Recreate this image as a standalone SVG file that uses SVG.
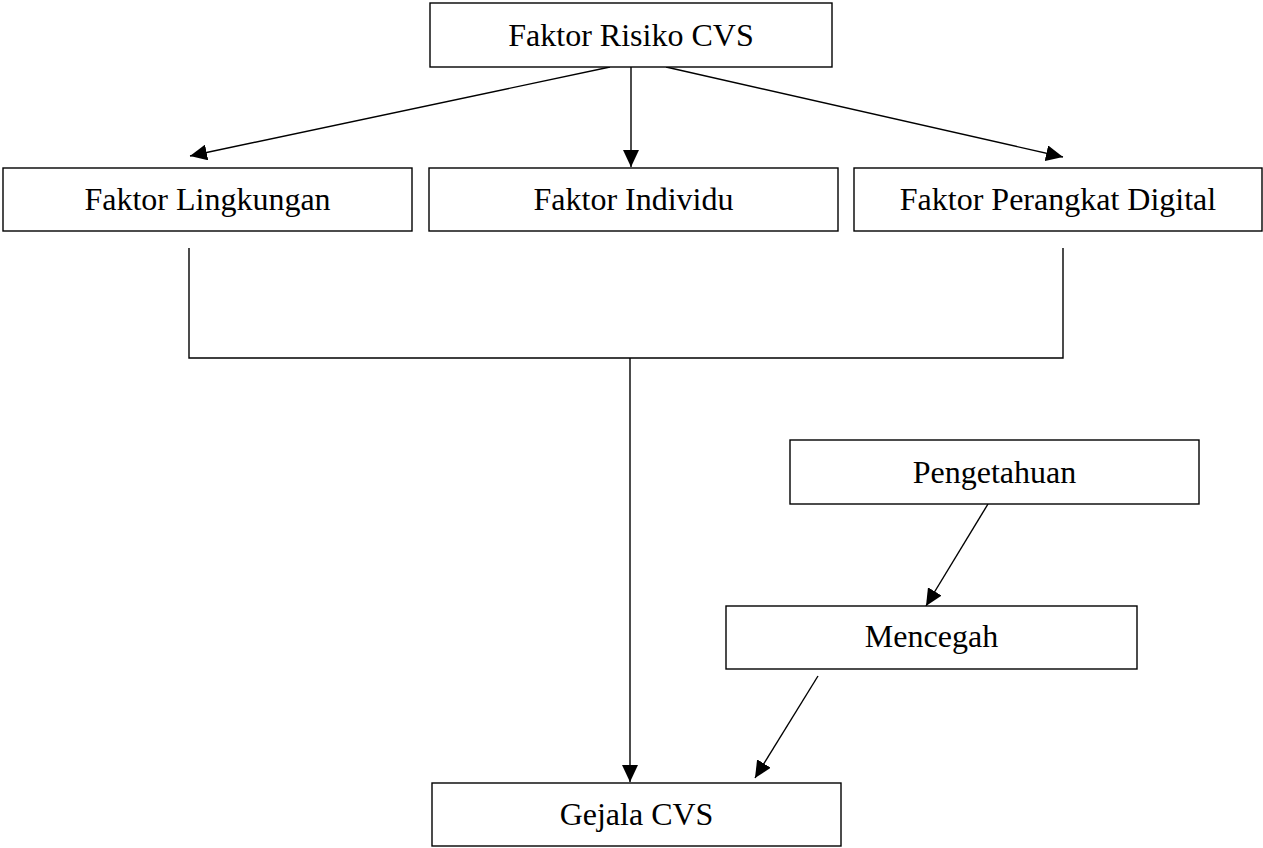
<svg xmlns="http://www.w3.org/2000/svg" width="1263" height="848" viewBox="0 0 1263 848">
<style>
.box{fill:#fff;stroke:#000;stroke-width:1.4}
.lbl{font-family:"Liberation Serif","Times New Roman",serif;font-size:32px;fill:#000;text-anchor:middle}
.con{fill:none;stroke:#000;stroke-width:1.4}
.arr{marker-end:url(#ah)}
</style>
<defs>
<marker id="ah" markerUnits="userSpaceOnUse" markerWidth="18" markerHeight="16" refX="17" refY="8" orient="auto">
<path d="M0,0 L17,8 L0,16 Z" fill="#000"/>
</marker>
</defs>
<rect width="1263" height="848" fill="#fff"/>
<g id="connectors">
<line class="con arr" x1="610" y1="67" x2="190" y2="156"/>
<line class="con arr" x1="631" y1="67" x2="631" y2="167"/>
<line class="con arr" x1="666" y1="67" x2="1063" y2="157"/>
<polyline class="con" points="189,248 189,358 1063,358 1063,248"/>
<line class="con arr" x1="630" y1="358" x2="630" y2="782"/>
<line class="con arr" x1="988" y1="504" x2="926" y2="606"/>
<line class="con arr" x1="818" y1="676" x2="755" y2="778"/>
</g>
<g id="n-risiko">
<rect class="box" x="430" y="3" width="402" height="64"/>
<text class="lbl" x="631" y="46">Faktor Risiko CVS</text>
</g>
<g id="n-lingkungan">
<rect class="box" x="3" y="168" width="409" height="63"/>
<text class="lbl" x="207.5" y="210">Faktor Lingkungan</text>
</g>
<g id="n-individu">
<rect class="box" x="429" y="168" width="409" height="63"/>
<text class="lbl" x="633.5" y="210">Faktor Individu</text>
</g>
<g id="n-perangkat">
<rect class="box" x="854" y="168" width="408" height="63"/>
<text class="lbl" x="1058" y="210">Faktor Perangkat Digital</text>
</g>
<g id="n-pengetahuan">
<rect class="box" x="790" y="440" width="409" height="64"/>
<text class="lbl" x="994.5" y="483">Pengetahuan</text>
</g>
<g id="n-mencegah">
<rect class="box" x="726" y="606" width="411" height="63"/>
<text class="lbl" x="931.5" y="647">Mencegah</text>
</g>
<g id="n-gejala">
<rect class="box" x="432" y="783" width="409" height="63"/>
<text class="lbl" x="636.5" y="825">Gejala CVS</text>
</g>
</svg>
